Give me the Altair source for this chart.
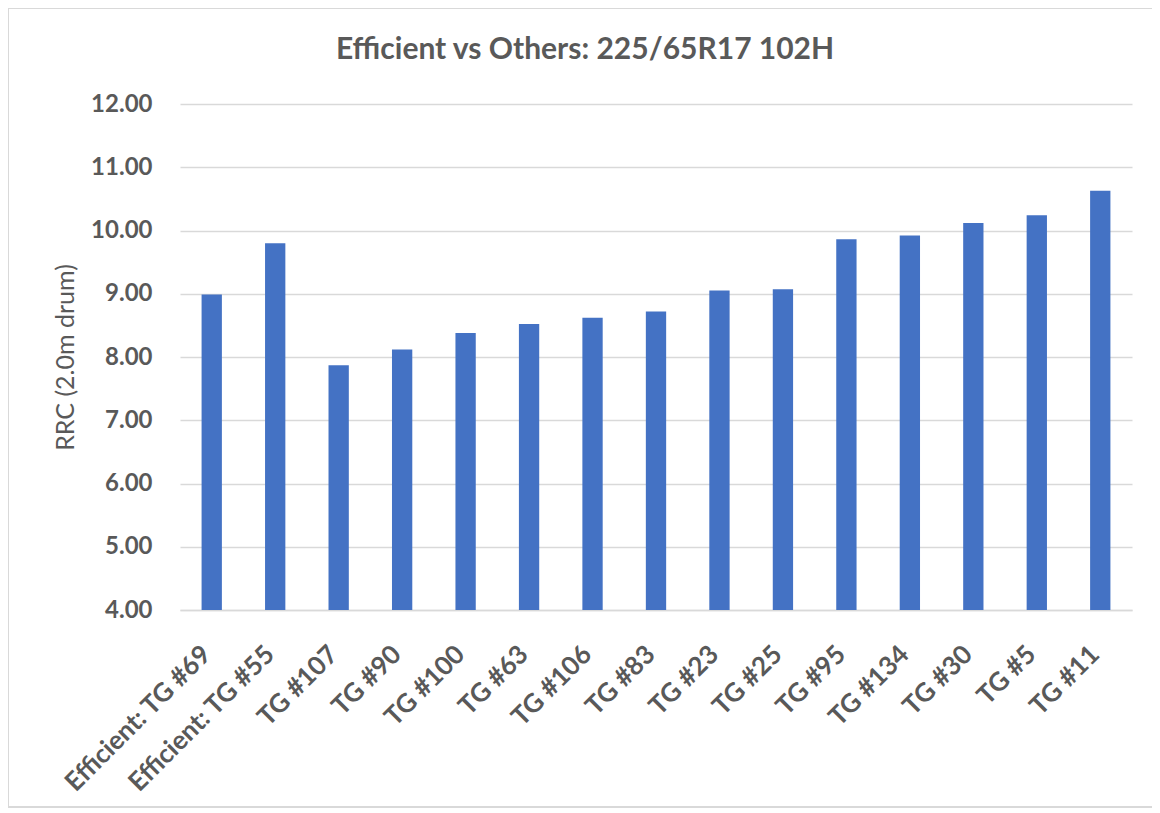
import altair as alt
import pandas as pd

title_text = "Efficient vs Others: 225/65R17 102H"
categories = ["Efficient: TG #69", "Efficient: TG #55", "TG #107", "TG #90", "TG #100",
              "TG #63", "TG #106", "TG #83", "TG #23", "TG #25", "TG #95", "TG #134",
              "TG #30", "TG #5", "TG #11"]
values = [8.99, 9.80, 7.87, 8.12, 8.38, 8.52, 8.62, 8.72, 9.05, 9.07, 9.86, 9.92, 10.12, 10.24, 10.63]

df = pd.DataFrame({"tire": categories, "rrc": values})

FONT = "Lato"
GREY = "#595959"

bars = alt.Chart(df).mark_bar(color="#4472C4", clip=True).encode(
    x=alt.X("tire:N", sort=categories, title=None,
            scale=alt.Scale(paddingInner=0.68, paddingOuter=0.34),
            axis=alt.Axis(labelAngle=-45, labelAlign="right", labelBaseline="middle",
                          labelFontSize=26, labelFontWeight="bold", labelColor=GREY,
                          labelFont=FONT, labelPadding=40, labelOffset=-5, ticks=False,
                          domainColor="#D9D9D9", domainWidth=1.5, labelLimit=400)),
    y=alt.Y("rrc:Q", title="RRC (2.0m drum)",
            scale=alt.Scale(domain=[4, 12], nice=False, zero=False),
            axis=alt.Axis(values=[4, 5, 6, 7, 8, 9, 10, 11, 12], format=".2f",
                          labelFontSize=24, labelFontWeight="bold", labelColor=GREY,
                          labelFont=FONT, labelPadding=28, ticks=False, domain=False,
                          gridColor="#D9D9D9", gridWidth=1.5,
                          titleFontSize=25, titleFontWeight="normal", titleColor=GREY,
                          titleFont=FONT, titlePadding=12))
)

frame = alt.Chart(df).mark_rect(filled=False, stroke="#D9D9D9", strokeWidth=1.5).encode(
    x=alt.value(-172), x2=alt.value(975), y=alt.value(-96), y2=alt.value(703)
)

title = alt.Chart(pd.DataFrame({"t": [title_text]})).mark_text(
    font=FONT, fontSize=30, fontWeight="bold", color=GREY, align="center", baseline="middle"
).encode(text="t:N", x=alt.value(405), y=alt.value(-54))

chart = alt.layer(frame, bars, title).properties(
    width=952, height=506,
    autosize=alt.AutoSizeParams(type="none"),
    padding={"left": 172, "top": 96, "right": 20, "bottom": 205},
    background="white",
).configure_view(stroke=None)

chart.save("out.html", embed_options={"renderer": "svg", "actions": False})
